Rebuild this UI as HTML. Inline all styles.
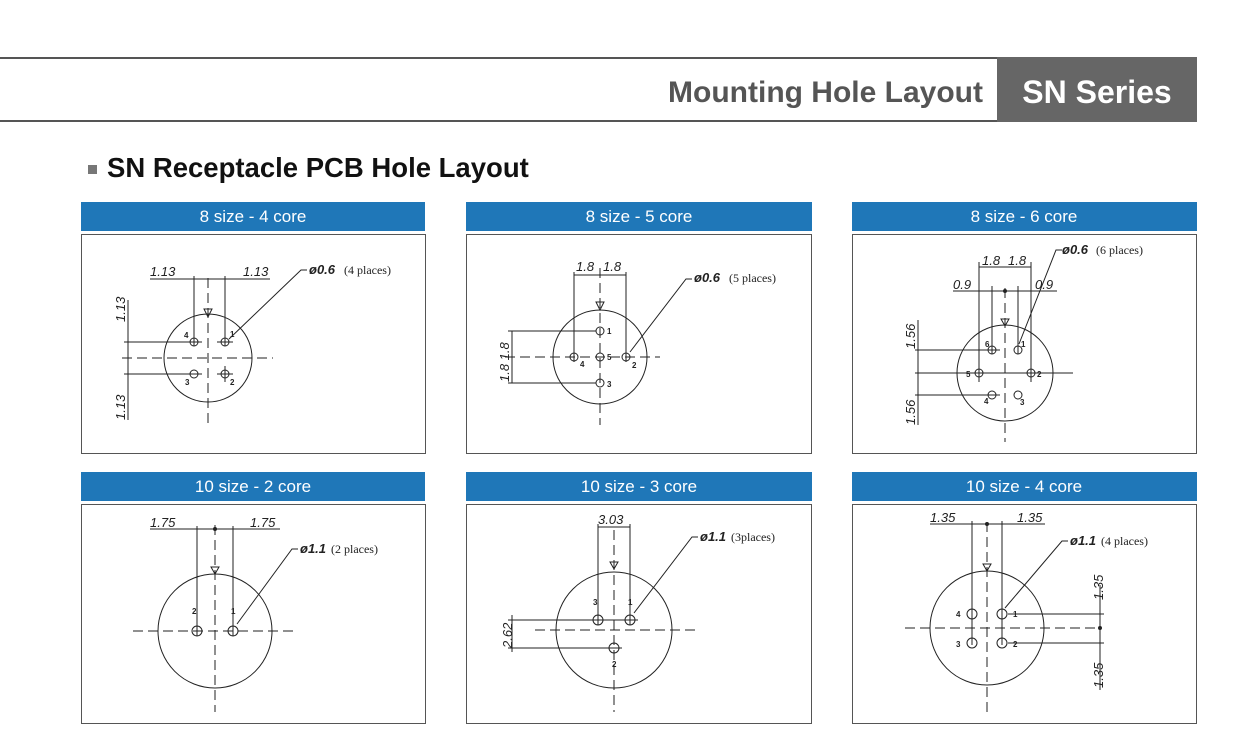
<!DOCTYPE html>
<html><head><meta charset="utf-8"><style>
body{margin:0;background:#fff;width:1259px;height:733px;overflow:hidden}
svg{display:block}
.d{font-family:"Liberation Sans",sans-serif;font-style:italic;font-size:13px;fill:#222}
.n{font-family:"Liberation Sans",sans-serif;font-size:8px;fill:#222;font-weight:bold}
.p{font-family:"Liberation Serif",serif;font-size:12px;fill:#222}
.ph{font-family:"Liberation Sans",sans-serif;font-style:italic;font-weight:bold;font-size:13px;fill:#222}
.t{font-family:"Liberation Sans",sans-serif;font-size:17px;fill:#fff;text-anchor:middle}
line,circle,path,polyline{stroke:#222;fill:none;stroke-width:1}
.ds{stroke-dasharray:10 5}
.bx{fill:#fff;stroke:#555;stroke-width:1}
</style></head><body>
<svg width="1259" height="733" viewBox="0 0 1259 733">
<line x1="0" y1="58" x2="997" y2="58" style="stroke:#555;stroke-width:2"/>
<line x1="0" y1="121" x2="1197" y2="121" style="stroke:#555;stroke-width:2"/>
<rect x="997" y="57" width="200" height="65" fill="#666"/>
<text x="983" y="102" text-anchor="end" font-family="Liberation Sans,sans-serif" font-weight="bold" font-size="30" fill="#555">Mounting Hole Layout</text>
<text x="1097" y="103" text-anchor="middle" font-family="Liberation Sans,sans-serif" font-weight="bold" font-size="32" fill="#fff">SN Series</text>
<rect x="88" y="165" width="9" height="9" fill="#777"/>
<text x="107" y="177" font-family="Liberation Sans,sans-serif" font-weight="bold" font-size="27.5" fill="#111">SN Receptacle PCB Hole Layout</text>

<g>
<rect x="81" y="202" width="344" height="29" fill="#1f77b8"/><text class="t" x="253" y="222">8 size - 4 core</text>
<rect x="466" y="202" width="346" height="29" fill="#1f77b8"/><text class="t" x="639" y="222">8 size - 5 core</text>
<rect x="852" y="202" width="345" height="29" fill="#1f77b8"/><text class="t" x="1024" y="222">8 size - 6 core</text>
<rect x="81" y="472" width="344" height="29" fill="#1f77b8"/><text class="t" x="253" y="492">10 size - 2 core</text>
<rect x="466" y="472" width="346" height="29" fill="#1f77b8"/><text class="t" x="639" y="492">10 size - 3 core</text>
<rect x="852" y="472" width="345" height="29" fill="#1f77b8"/><text class="t" x="1024" y="492">10 size - 4 core</text>
<rect class="bx" x="81.5" y="234.5" width="344" height="219"/>
<rect class="bx" x="466.5" y="234.5" width="345" height="219"/>
<rect class="bx" x="852.5" y="234.5" width="344" height="219"/>
<rect class="bx" x="81.5" y="504.5" width="344" height="219"/>
<rect class="bx" x="466.5" y="504.5" width="345" height="219"/>
<rect class="bx" x="852.5" y="504.5" width="344" height="219"/>
</g>

<!-- P1 -->
<g>
<circle cx="208" cy="358" r="44"/>
<line class="ds" x1="208" y1="278" x2="208" y2="425"/>
<line class="ds" x1="122" y1="358" x2="273" y2="358"/>
<line x1="150" y1="279" x2="270" y2="279"/>
<line x1="194" y1="276" x2="194" y2="346"/><line x1="225" y1="276" x2="225" y2="346"/>
<line x1="124" y1="342" x2="202" y2="342"/><line x1="124" y1="374" x2="202" y2="374"/>
<line x1="128" y1="300" x2="128" y2="420"/>
<circle cx="194" cy="342" r="4"/><circle cx="225" cy="342" r="4"/><circle cx="194" cy="374" r="4"/><circle cx="225" cy="374" r="4"/>
<line x1="217" y1="374" x2="233" y2="374"/><line x1="225" y1="366" x2="225" y2="382"/>
<line x1="217" y1="342" x2="233" y2="342"/>
<path d="M204 309 h8 l-4 8z"/>
<text class="d" x="150" y="276">1.13</text><text class="d" x="243" y="276">1.13</text>
<text class="d" transform="translate(125,322) rotate(-90)">1.13</text>
<text class="d" transform="translate(125,420) rotate(-90)">1.13</text>
<text class="n" x="184" y="338">4</text><text class="n" x="230" y="337">1</text><text class="n" x="185" y="385">3</text><text class="n" x="230" y="385">2</text>
<polyline points="307,270 301,270 229,339"/>
<text class="ph" x="309" y="274">ø0.6</text><text class="p" x="344" y="274">(4 places)</text>
</g>

<!-- P2 -->
<g>
<circle cx="600" cy="357" r="47"/>
<line class="ds" x1="600" y1="268" x2="600" y2="425"/>
<line class="ds" x1="505" y1="357" x2="660" y2="357"/>
<line x1="574" y1="272" x2="574" y2="362"/><line x1="626" y1="272" x2="626" y2="362"/>
<line x1="574" y1="275" x2="626" y2="275"/>
<line x1="508" y1="331" x2="596" y2="331"/><line x1="508" y1="383" x2="596" y2="383"/>
<line x1="512" y1="331" x2="512" y2="383"/>
<circle cx="600" cy="331" r="4"/><circle cx="574" cy="357" r="4"/><circle cx="600" cy="357" r="4"/><circle cx="626" cy="357" r="4"/><circle cx="600" cy="383" r="4"/>
<path d="M596 302 h8 l-4 8z"/>
<text class="d" x="576" y="271">1.8</text><text class="d" x="603" y="271">1.8</text>
<text class="d" transform="translate(509,382) rotate(-90)">1.8 1.8</text>
<text class="n" x="607" y="334">1</text><text class="n" x="580" y="367">4</text><text class="n" x="607" y="360">5</text><text class="n" x="632" y="368">2</text><text class="n" x="607" y="387">3</text>
<polyline points="692,279 686,279 630,352"/>
<text class="ph" x="694" y="282">ø0.6</text><text class="p" x="729" y="282">(5 places)</text>
</g>

<!-- P3 -->
<g>
<circle cx="1005" cy="373" r="48"/>
<line class="ds" x1="1005" y1="288" x2="1005" y2="442"/>
<line x1="915" y1="373" x2="1073" y2="373"/>
<line x1="979" y1="262" x2="979" y2="382"/><line x1="1031" y1="262" x2="1031" y2="382"/>
<line x1="992" y1="286" x2="992" y2="354"/><line x1="1018" y1="286" x2="1018" y2="354"/>
<line x1="979" y1="267" x2="1031" y2="267"/>
<line x1="953" y1="291" x2="1057" y2="291"/>
<line x1="915" y1="350" x2="1000" y2="350"/><line x1="915" y1="395" x2="1000" y2="395"/>
<line x1="918" y1="320" x2="918" y2="425"/>
<circle cx="992" cy="350" r="4"/><circle cx="1018" cy="350" r="4"/><circle cx="979" cy="373" r="4"/><circle cx="1031" cy="373" r="4"/><circle cx="992" cy="395" r="4"/><circle cx="1018" cy="395" r="4"/>
<circle cx="1005" cy="291" r="1.5" style="fill:#222"/>
<path d="M1001 319 h8 l-4 7z"/>
<text class="d" x="982" y="265">1.8</text><text class="d" x="1008" y="265">1.8</text>
<text class="d" x="953" y="289">0.9</text><text class="d" x="1035" y="289">0.9</text>
<text class="d" transform="translate(915,349) rotate(-90)">1.56</text>
<text class="d" transform="translate(915,425) rotate(-90)">1.56</text>
<text class="n" x="985" y="347">6</text><text class="n" x="1021" y="347">1</text><text class="n" x="966" y="377">5</text><text class="n" x="1037" y="377">2</text><text class="n" x="984" y="404">4</text><text class="n" x="1020" y="405">3</text>
<polyline points="1062,250 1056,250 1019,344"/>
<text class="ph" x="1062" y="254">ø0.6</text><text class="p" x="1096" y="254">(6 places)</text>
</g>

<!-- P4 -->
<g>
<circle cx="215" cy="631" r="57"/>
<line class="ds" x1="215" y1="525" x2="215" y2="712"/>
<line class="ds" x1="133" y1="631" x2="297" y2="631"/>
<line x1="150" y1="529" x2="280" y2="529"/>
<line x1="197" y1="526" x2="197" y2="636"/><line x1="233" y1="526" x2="233" y2="636"/>
<circle cx="215" cy="529" r="1.5" style="fill:#222"/>
<circle cx="197" cy="631" r="5"/><circle cx="233" cy="631" r="5"/>
<path d="M211 567 h8 l-4 7z"/>
<text class="d" x="150" y="527">1.75</text><text class="d" x="250" y="527">1.75</text>
<text class="n" x="192" y="614">2</text><text class="n" x="231" y="614">1</text>
<polyline points="298,549 292,549 237,624"/>
<text class="ph" x="300" y="553">ø1.1</text><text class="p" x="331" y="553">(2 places)</text>
</g>

<!-- P5 -->
<g>
<circle cx="614" cy="630" r="58"/>
<line class="ds" x1="614" y1="530" x2="614" y2="712"/>
<line class="ds" x1="535" y1="630" x2="698" y2="630"/>
<line x1="598" y1="524" x2="598" y2="625"/><line x1="630" y1="524" x2="630" y2="625"/>
<line x1="598" y1="527" x2="630" y2="527"/>
<line x1="508" y1="620" x2="638" y2="620"/><line x1="508" y1="648" x2="622" y2="648"/>
<line x1="512" y1="615" x2="512" y2="652"/>
<circle cx="598" cy="620" r="5"/><circle cx="630" cy="620" r="5"/><circle cx="614" cy="648" r="5"/>
<path d="M610 562 h8 l-4 7z"/>
<text class="d" x="598" y="524">3.03</text>
<text class="d" transform="translate(512,648) rotate(-90)">2.62</text>
<text class="n" x="593" y="605">3</text><text class="n" x="628" y="605">1</text><text class="n" x="612" y="667">2</text>
<polyline points="698,537 692,537 634,613"/>
<text class="ph" x="700" y="541">ø1.1</text><text class="p" x="731" y="541">(3places)</text>
</g>

<!-- P6 -->
<g>
<circle cx="987" cy="628" r="57"/>
<line class="ds" x1="987" y1="522" x2="987" y2="712"/>
<line class="ds" x1="905" y1="628" x2="1100" y2="628"/>
<line x1="930" y1="524" x2="1045" y2="524"/>
<line x1="972" y1="521" x2="972" y2="645"/><line x1="1002" y1="521" x2="1002" y2="645"/>
<line x1="1008" y1="614" x2="1104" y2="614"/><line x1="1008" y1="643" x2="1104" y2="643"/>
<line x1="1100" y1="585" x2="1100" y2="690"/>
<circle cx="987" cy="524" r="1.5" style="fill:#222"/><circle cx="1100" cy="628" r="1.5" style="fill:#222"/>
<circle cx="972" cy="614" r="5"/><circle cx="1002" cy="614" r="5"/><circle cx="972" cy="643" r="5"/><circle cx="1002" cy="643" r="5"/>
<path d="M983 564 h8 l-4 7z"/>
<text class="d" x="930" y="522">1.35</text><text class="d" x="1017" y="522">1.35</text>
<text class="d" transform="translate(1103,600) rotate(-90)">1.35</text>
<text class="d" transform="translate(1103,688) rotate(-90)">1.35</text>
<text class="n" x="956" y="617">4</text><text class="n" x="1013" y="617">1</text><text class="n" x="956" y="647">3</text><text class="n" x="1013" y="647">2</text>
<polyline points="1068,541 1062,541 1005,608"/>
<text class="ph" x="1070" y="545">ø1.1</text><text class="p" x="1101" y="545">(4 places)</text>
</g>
</svg>
</body></html>
